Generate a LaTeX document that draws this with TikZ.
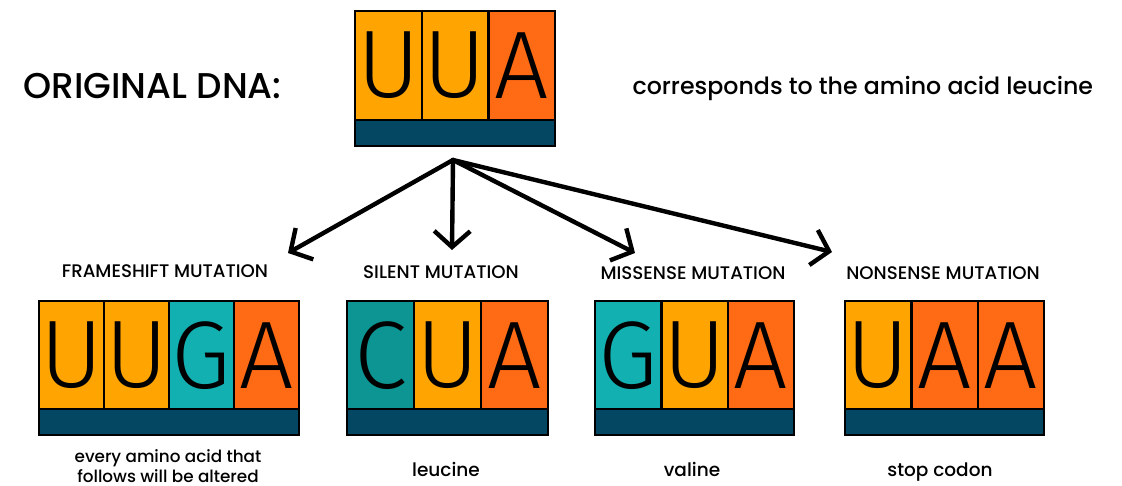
\documentclass[tikz,border=0pt]{standalone}
\usepackage{fontspec}
\setmainfont{Poppins}[UprightFont={* Medium}]
\newfontfamily\basefont[UprightFont={* Light}]{Fira Sans}
\usepackage{xcolor}
\definecolor{cdnorange}{HTML}{FFA400}
\definecolor{cdnred}{HTML}{FF6A14}
\definecolor{cdnteal}{HTML}{13B0B1}
\definecolor{cdndeep}{HTML}{0C9592}
\definecolor{cdnnavy}{HTML}{034763}
\usetikzlibrary{arrows.meta, positioning}

\tikzset{
  cell/.style={draw=black, line width=2.2pt, inner sep=0pt, anchor=north west,
    minimum height=109pt, font=\basefont\fontsize{96}{96}\selectfont},
  strand/.style={draw=black, line width=2.2pt, fill=cdnnavy, inner sep=0pt,
    anchor=north west, minimum height=26pt},
  branch/.style={line width=4.4pt, line cap=round,
    -{Straight Barb[length=16pt, width=36pt, line width=4.4pt]}},
  heading/.style={font=\fontsize{18.2}{20}\selectfont},
  note/.style={font=\fontsize{18.5}{20}\selectfont, align=center},
}

\begin{document}
\begin{tikzpicture}[x=1pt, y=-1pt]
  \useasboundingbox (0,0) rectangle (1122,486);

  % original codon
  \node[anchor=west, font=\fontsize{35.8}{38}\selectfont] (orig-title) at (20,86) {ORIGINAL DNA:};
  \foreach \b/\c [count=\i] in {U/cdnorange, U/cdnorange, A/cdnred}
    \node[cell, fill=\c, minimum width=66.7pt] (orig-\i) at ({354+(\i-1)*66.7}, 10) {\b};
  \node[strand, minimum width=200pt] (orig-strand) at (354,119) {};
  \node[anchor=west, font=\fontsize{23.7}{26}\selectfont] (orig-note) at (629,88)
    {corresponds to the amino acid leucine};

  % mutated codons
  \foreach \b/\c [count=\i] in {U/cdnorange, U/cdnorange, G/cdnteal, A/cdnred}
    \node[cell, fill=\c, minimum width=65pt] (frame-\i) at ({38+(\i-1)*65}, 300) {\b};
  \node[strand, minimum width=260pt] (frame-strand) at (38,408) {};

  \foreach \b/\c [count=\i] in {C/cdndeep, U/cdnorange, A/cdnred}
    \node[cell, fill=\c, minimum width=67pt] (silent-\i) at ({346+(\i-1)*67}, 300) {\b};
  \node[strand, minimum width=201pt] (silent-strand) at (346,408) {};

  \foreach \b/\c [count=\i] in {G/cdnteal, U/cdnorange, A/cdnred}
    \node[cell, fill=\c, minimum width=66.3pt] (miss-\i) at ({594+(\i-1)*66.3}, 300) {\b};
  \node[strand, minimum width=199pt] (miss-strand) at (594,408) {};

  \foreach \b/\c [count=\i] in {U/cdnorange, A/cdnred, A/cdnred}
    \node[cell, fill=\c, minimum width=66.3pt] (non-\i) at ({844+(\i-1)*66.3}, 300) {\b};
  \node[strand, minimum width=199pt] (non-strand) at (844,408) {};

  % headings and notes
  \node[heading] (frame-head) at (165,271) {FRAMESHIFT MUTATION};
  \node[heading] (silent-head) at (441,272) {SILENT MUTATION};
  \node[heading] (miss-head) at (693,273) {MISSENSE MUTATION};
  \node[heading] (non-head) at (943,273) {NONSENSE MUTATION};

  \node[note, font=\fontsize{16.8}{19.5}\selectfont] (frame-note) at (168,466)
    {every amino acid that\\follows will be altered};
  \node[note, anchor=base] (silent-note) at (446,476) {leucine};
  \node[note, anchor=base] (miss-note) at (692,476) {valine};
  \node[note, anchor=base] (non-note) at (940,476) {stop codon};

  % arrows from the original codon
  \coordinate (fork) at (453,160);
  \coordinate (to-frame) at (288,253);
  \coordinate (to-silent) at (452,250);
  \coordinate (to-miss) at (635,253);
  \coordinate (to-non) at (832,252);
  \foreach \t in {frame, silent, miss, non}
    \draw[branch] (fork) -- (to-\t);
\end{tikzpicture}
\end{document}
